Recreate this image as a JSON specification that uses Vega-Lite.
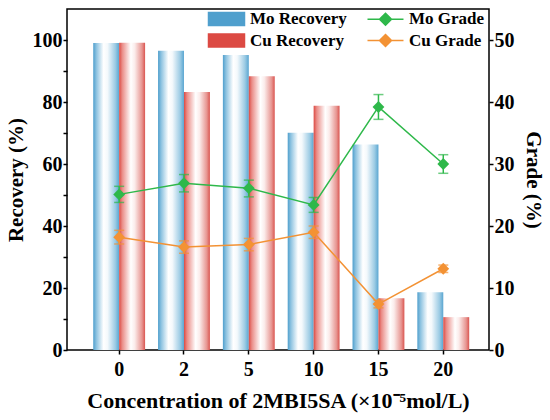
{
  "$schema": "https://vega.github.io/schema/vega-lite/v6.json",
  "width": 422,
  "height": 341,
  "autosize": {"type": "none"},
  "padding": {"left": 67, "top": 9, "right": 61, "bottom": 70},
  "background": "white",
  "config": {
    "font": "Liberation Serif",
    "view": {"stroke": "black", "strokeWidth": 1.5},
    "axis": {
      "domainColor": "black",
      "domainWidth": 1.5,
      "tickColor": "black",
      "tickWidth": 1.5,
      "tickSize": 4,
      "grid": false
    }
  },
  "datasets": {
    "recovery": [
      {"conc": "0", "series": "Mo Recovery", "value": 99.0},
      {"conc": "0", "series": "Cu Recovery", "value": 99.1},
      {"conc": "2", "series": "Mo Recovery", "value": 96.5},
      {"conc": "2", "series": "Cu Recovery", "value": 83.2},
      {"conc": "5", "series": "Mo Recovery", "value": 95.2},
      {"conc": "5", "series": "Cu Recovery", "value": 88.3},
      {"conc": "10", "series": "Mo Recovery", "value": 70.1},
      {"conc": "10", "series": "Cu Recovery", "value": 78.8},
      {"conc": "15", "series": "Mo Recovery", "value": 66.3},
      {"conc": "15", "series": "Cu Recovery", "value": 16.7},
      {"conc": "20", "series": "Mo Recovery", "value": 18.6},
      {"conc": "20", "series": "Cu Recovery", "value": 10.6}
    ],
    "grade": [
      {"conc": "0", "series": "Mo Grade", "grade": 25.1, "lo": 23.8, "hi": 26.4},
      {"conc": "2", "series": "Mo Grade", "grade": 26.9, "lo": 25.5, "hi": 28.3},
      {"conc": "5", "series": "Mo Grade", "grade": 26.1, "lo": 24.7, "hi": 27.4},
      {"conc": "10", "series": "Mo Grade", "grade": 23.4, "lo": 22.2, "hi": 24.6},
      {"conc": "15", "series": "Mo Grade", "grade": 39.2, "lo": 37.2, "hi": 41.2},
      {"conc": "20", "series": "Mo Grade", "grade": 30.0, "lo": 28.5, "hi": 31.5},
      {"conc": "0", "series": "Cu Grade", "grade": 18.2, "lo": 17.1, "hi": 19.3},
      {"conc": "2", "series": "Cu Grade", "grade": 16.6, "lo": 15.6, "hi": 17.6},
      {"conc": "5", "series": "Cu Grade", "grade": 17.0, "lo": 16.0, "hi": 18.0},
      {"conc": "10", "series": "Cu Grade", "grade": 19.0, "lo": 18.0, "hi": 20.0},
      {"conc": "15", "series": "Cu Grade", "grade": 7.4, "lo": 6.8, "hi": 8.0},
      {"conc": "20", "series": "Cu Grade", "grade": 13.1, "lo": 12.5, "hi": 13.7}
    ]
  },
  "encoding": {
    "x": {
      "field": "conc",
      "type": "ordinal",
      "sort": ["0", "2", "5", "10", "15", "20"],
      "scale": {"type": "band", "paddingInner": 0.2, "paddingOuter": 0.355, "align": 0.57},
      "axis": {
        "title": "Concentration of 2MBI5SA (×10⁻⁵mol/L)",
        "labelAngle": 0,
        "labelPadding": 5,
        "titlePadding": 11,
        "domain": false,
        "labelFont": "Liberation Serif",
        "labelFontWeight": "bold",
        "labelFontSize": 20,
        "labelColor": "black",
        "titleFont": "Liberation Serif",
        "titleFontWeight": "bold",
        "titleFontSize": 22,
        "titleColor": "black"
      }
    }
  },
  "layer": [
    {
      "data": {"name": "recovery"},
      "encoding": {
        "y": {
          "field": "value",
          "type": "quantitative",
          "scale": {"domain": [0, 110], "nice": false},
          "axis": {
            "orient": "left", "title": "Recovery (%)", "values": [0, 10, 20, 30, 40, 50, 60, 70, 80, 90, 100],
            "labelExpr": "datum.value % 20 === 0 ? datum.label : ''",
            "labelPadding": 1, "titlePadding": 6, "domain": false,
            "labelFont": "Liberation Serif",
            "labelFontWeight": "bold",
            "labelFontSize": 20,
            "labelColor": "black",
            "titleFont": "Liberation Serif",
            "titleFontWeight": "bold",
            "titleFontSize": 21,
            "titleColor": "black",
            "encode": {
              "ticks": {
                "update": {
                  "x": {"signal": "datum.value % 20 === 0 ? -4 : 0"},
                  "x2": {"signal": "datum.value % 20 === 0 ? 4 : 3"}
                }
              }
            }
          }
        },
        "xOffset": {
          "field": "series",
          "type": "nominal",
          "scale": {"domain": ["Mo Recovery", "Cu Recovery"], "paddingInner": 0, "paddingOuter": 0}
        }
      },
      "layer": [
        {
          "transform": [{"filter": "datum.series === 'Mo Recovery'"}],
          "mark": {
            "type": "bar",
            "fill": {
              "gradient": "linear", "x1": 0, "y1": 0, "x2": 1, "y2": 0,
              "stops": [
                {"offset": 0, "color": "#4f9fcd"},
                {"offset": 0.12, "color": "#8cc2e0"},
                {"offset": 0.4, "color": "#ffffff"},
                {"offset": 0.55, "color": "#f4f9fc"},
                {"offset": 0.85, "color": "#9ccbe4"},
                {"offset": 1, "color": "#5aa6d1"}
              ]
            }
          }
        },
        {
          "transform": [{"filter": "datum.series === 'Cu Recovery'"}],
          "mark": {
            "type": "bar",
            "fill": {
              "gradient": "linear", "x1": 0, "y1": 0, "x2": 1, "y2": 0,
              "stops": [
                {"offset": 0, "color": "#dc4a43"},
                {"offset": 0.12, "color": "#ea8d88"},
                {"offset": 0.45, "color": "#ffffff"},
                {"offset": 0.6, "color": "#fbeceb"},
                {"offset": 0.88, "color": "#e79591"},
                {"offset": 1, "color": "#da5550"}
              ]
            }
          }
        }
      ]
    },
    {
      "data": {"name": "grade"},
      "encoding": {
        "color": {
          "field": "series",
          "type": "nominal",
          "scale": {
            "domain": ["Mo Recovery", "Cu Recovery", "Mo Grade", "Cu Grade"],
            "range": ["#4f9fcd", "#dc4a43", "#2eb84a", "#f39234"]
          },
          "legend": {
            "title": null,
            "orient": "none",
            "legendX": 141,
            "legendY": 1,
            "columns": 2,
            "padding": 0,
            "columnPadding": 17,
            "rowPadding": 1,
            "labelFont": "Liberation Serif",
            "labelFontSize": 17,
            "labelFontWeight": "bold",
            "labelColor": "black",
            "symbolSize": 196,
            "symbolOffset": 10,
            "labelOffset": 15,
            "symbolStrokeWidth": 1.5,
            "encode": {
              "symbols": {
                "update": {
                  "shape": {"signal": "(datum.value === 'Mo Recovery' || datum.value === 'Cu Recovery') ? 'M-2.571,-0.929H2.571V0.929H-2.571Z' : 'M-2.571,0H2.571M0,-0.857L0.857,0L0,0.857L-0.857,0Z'"},
                  "fill": [
                    {"test": "datum.value === 'Mo Recovery'", "value": {"gradient": "linear", "x1": 0, "y1": 0, "x2": 1, "y2": 0, "stops": [{"offset": 0, "color": "#4f9fcd"}, {"offset": 0.12, "color": "#8cc2e0"}, {"offset": 0.4, "color": "#ffffff"}, {"offset": 0.55, "color": "#f4f9fc"}, {"offset": 0.85, "color": "#9ccbe4"}, {"offset": 1, "color": "#5aa6d1"}]}},
                    {"test": "datum.value === 'Cu Recovery'", "value": {"gradient": "linear", "x1": 0, "y1": 0, "x2": 1, "y2": 0, "stops": [{"offset": 0, "color": "#dc4a43"}, {"offset": 0.12, "color": "#ea8d88"}, {"offset": 0.45, "color": "#ffffff"}, {"offset": 0.6, "color": "#fbeceb"}, {"offset": 0.88, "color": "#e79591"}, {"offset": 1, "color": "#da5550"}]}},
                    {"test": "datum.value === 'Mo Grade'", "value": "#2eb84a"},
                    {"value": "#f39234"}
                  ],
                  "stroke": [
                    {"test": "datum.value === 'Mo Grade'", "value": "#2eb84a"},
                    {"test": "datum.value === 'Cu Grade'", "value": "#f39234"},
                    {"value": "transparent"}
                  ],
                  "strokeWidth": {"value": 1.5},
                  "opacity": {"value": 1},
                  "fillOpacity": {"value": 1}
                }
              }
            }
          }
        }
      },
      "layer": [
        {
          "mark": {"type": "line", "strokeWidth": 1.5},
          "encoding": {
            "y": {
              "field": "grade",
              "type": "quantitative",
              "scale": {"domain": [0, 55], "nice": false},
              "axis": {
                "orient": "right", "title": "Grade (%)", "values": [0, 5, 10, 15, 20, 25, 30, 35, 40, 45, 50],
                "labelExpr": "datum.value % 10 === 0 ? datum.label : ''",
                "labelPadding": 1, "titlePadding": 8, "domain": false,
                "labelFont": "Liberation Serif",
                "labelFontWeight": "bold",
                "labelFontSize": 20,
                "labelColor": "black",
                "titleFont": "Liberation Serif",
                "titleFontWeight": "bold",
                "titleFontSize": 21,
                "titleColor": "black",
                "encode": {
                  "ticks": {
                    "update": {
                      "x": {"value": 0},
                      "x2": {"signal": "datum.value % 10 === 0 ? -4 : -3"}
                    }
                  }
                }
              }
            }
          }
        },
        {
          "mark": {"type": "rule", "strokeWidth": 1.5},
          "encoding": {
            "y": {"field": "lo", "type": "quantitative"},
            "y2": {"field": "hi"}
          }
        },
        {
          "mark": {"type": "tick", "size": 10, "thickness": 1.5},
          "encoding": {"y": {"field": "lo", "type": "quantitative"}}
        },
        {
          "mark": {"type": "tick", "size": 10, "thickness": 1.5},
          "encoding": {"y": {"field": "hi", "type": "quantitative"}}
        },
        {
          "mark": {"type": "point", "shape": "diamond", "filled": true, "size": 140, "opacity": 1},
          "encoding": {"y": {"field": "grade", "type": "quantitative"}}
        }
      ]
    }
  ],
  "resolve": {"scale": {"y": "independent"}}
}
